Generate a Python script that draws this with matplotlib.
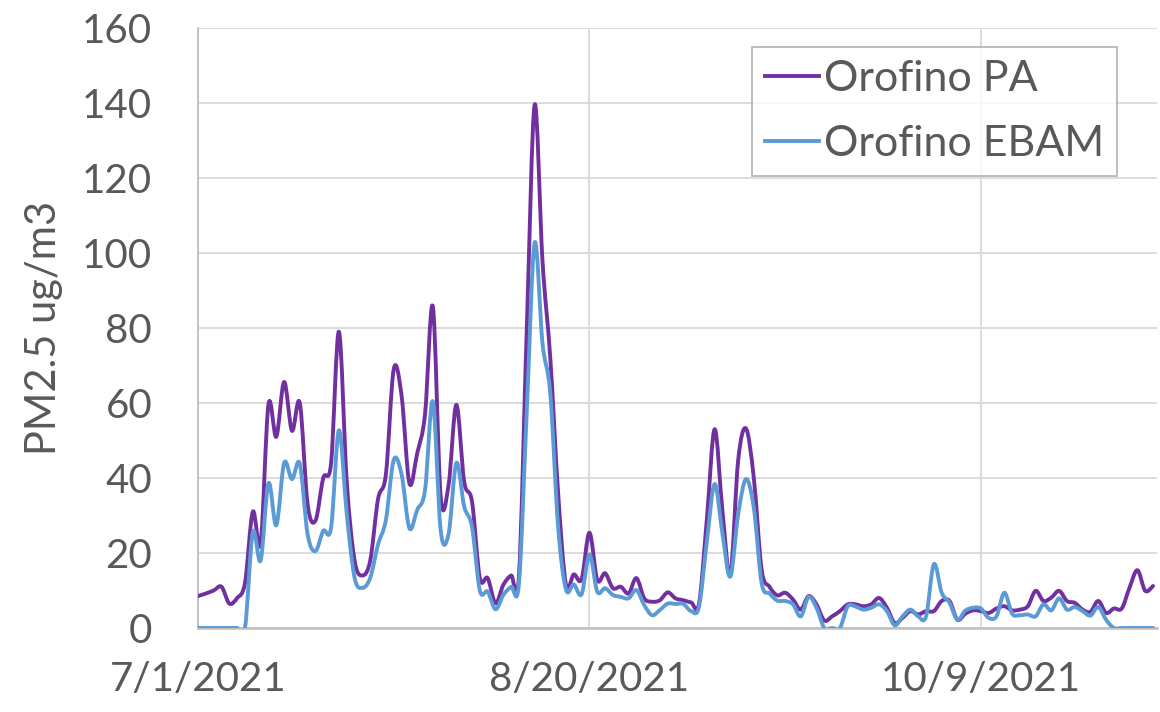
import matplotlib
matplotlib.use("Agg")
import matplotlib.pyplot as plt
import matplotlib.dates as mdates
from matplotlib.path import Path
from matplotlib.patches import PathPatch
from matplotlib.lines import Line2D
import numpy as np
import pandas as pd

# daily PM2.5, 7/1/2021 - 10/31/2021
start_date = "2021-07-01"
pa = [8.5, 9.2, 10, 11, 6.5, 8, 12, 31, 22.6, 59.6,
      51, 65.6, 52.6, 60, 33, 28.6, 40, 44, 79, 39,
      18, 14, 18, 34.4, 41, 69, 62, 38.6, 46.6, 57,
      85.7, 35, 38, 59.5, 39, 33.7, 13.3, 13.3, 6.6, 11.5,
      14, 14, 80, 139.5, 98, 72, 36, 11.6, 14.3, 13,
      25.4, 12.8, 14.6, 10.6, 11, 9.2, 13.3, 7.9, 7, 7.4,
      9.5, 7.9, 7.4, 6.8, 6.5, 29, 53, 31, 14.2, 44.7,
      53.2, 40, 15.5, 11, 8.7, 9.4, 7.6, 4.9, 8.5, 6.3,
      2, 3.1, 4.5, 6.3, 6.3, 5.8, 6.3, 8, 5.4, 1.3,
      2.7, 4.5, 3.6, 4.5, 4.5, 7.2, 7.2, 2.2, 3.8, 4.7,
      4.5, 4, 5.2, 5.8, 4.7, 4.9, 5.8, 9.9, 7.2, 8.1,
      9.9, 7.2, 6.7, 4.9, 4.3, 7.2, 4, 5.2, 5.2, 10.8,
      15.4, 9.9, 11.2]
ebam = [0, 0, 0, 0, 0, 0, 0, 25.5, 18, 38.6,
        27.4, 44, 39.7, 43.8, 25, 20.5, 25.9, 26.8, 52.7, 30.4,
        13.4, 10.7, 13.4, 22.3, 28.8, 44.8, 41, 26.6, 31.5, 36.8,
        60.4, 26, 25, 44, 32.4, 27, 10, 9.7, 5, 8.8,
        11, 12, 58, 102.7, 76, 62.5, 27, 10.3, 11.6, 9,
        19.6, 9.7, 10.6, 8.8, 8.3, 7.9, 10.1, 6.1, 3.4, 4.8,
        6.5, 6.4, 6.4, 4.5, 5.7, 23, 38.4, 25, 13.7, 30.3,
        39.7, 32, 11.9, 9.2, 7.3, 7.2, 6.3, 3.1, 8.3, 5.4,
        0, 0, 0, 5.8, 5.7, 4.9, 5.4, 6.3, 4.5, 0.7,
        3.1, 4.9, 3.1, 3.1, 17, 9.4, 6.7, 2.2, 4.6, 5.4,
        5.2, 2.7, 3.1, 9.4, 3.8, 3.4, 3.6, 3.1, 6.3, 4.7,
        7.9, 4.9, 5.6, 4.5, 3.3, 5.6, 2.2, 0, 0, 0,
        0, 0, 0]
series_names = ["Orofino PA", "Orofino EBAM"]
series_colors = ["#7030a0", "#5b9bd5"]
tick_dates = ["2021-07-01", "2021-08-20", "2021-10-09"]
tick_labels = ["7/1/2021", "8/20/2021", "10/9/2021"]

dates = pd.date_range(start_date, periods=len(pa), freq="D")
xnum = mdates.date2num(dates.to_pydatetime())


def smooth_path(x, y):
    # Excel-style smoothed line: cubic bezier through every point
    x = np.asarray(x, float)
    y = np.asarray(y, float)
    n = len(x)
    verts = [(x[0], y[0])]
    codes = [Path.MOVETO]
    for i in range(n - 1):
        i0 = max(i - 1, 0)
        i3 = min(i + 2, n - 1)
        c1 = (x[i] + (x[i + 1] - x[i0]) / 6, y[i] + (y[i + 1] - y[i0]) / 6)
        c2 = (x[i + 1] - (x[i3] - x[i]) / 6, y[i + 1] - (y[i3] - y[i]) / 6)
        verts += [c1, c2, (x[i + 1], y[i + 1])]
        codes += [Path.CURVE4] * 3
    return Path(verts, codes)


plt.rcParams["font.family"] = ["Lato", "DejaVu Sans"]
text_color = "#595959"

fig = plt.figure(figsize=(11.6, 7.12), dpi=100)
ax = fig.add_axes([0.1707, 0.118, 0.8267, 0.8427])

handles = []
for vals, name, col in zip([pa, ebam], series_names, series_colors):
    ax.add_patch(PathPatch(smooth_path(xnum, vals), fill=False, edgecolor=col,
                           lw=2.8, joinstyle="round", capstyle="round", zorder=3))
    handles.append(Line2D([], [], color=col, lw=2.8, label=name))

ax.set_ylim(0, 160)
ax.set_yticks(range(0, 161, 20))
x0 = mdates.date2num(pd.Timestamp(start_date).to_pydatetime())
ax.set_xlim(x0, x0 + 122.5)
ax.set_xticks(mdates.date2num(pd.to_datetime(tick_dates).to_pydatetime()))
ax.set_xticklabels(tick_labels)

ax.grid(True, color="#d9d9d9", lw=1.3, zorder=0)
ax.set_axisbelow(True)
for s in ["top", "right"]:
    ax.spines[s].set_visible(False)
ax.spines["left"].set_color("#bfbfbf")
ax.spines["bottom"].set_color("#bfbfbf")
ax.spines["left"].set_linewidth(1.3)
ax.spines["bottom"].set_linewidth(1.8)

ax.tick_params(axis="both", length=0, labelsize=29, colors=text_color)
ax.tick_params(axis="y", pad=33)
ax.tick_params(axis="x", pad=24)
ax.set_ylabel("PM2.5 ug/m3", fontsize=30, color=text_color)
ax.yaxis.set_label_coords(-0.141, 0.5)

leg = ax.legend(handles=handles, loc="upper left", bbox_to_anchor=(0.5777, 0.968),
                fontsize=31, frameon=True, fancybox=False, edgecolor="#a6a6a6",
                handlelength=1.25, handletextpad=0.12, labelspacing=0.62,
                borderpad=0.3, borderaxespad=0)
leg.get_frame().set_linewidth(1.3)
for t in leg.get_texts():
    t.set_color(text_color)

fig.savefig("out.png", dpi=100)
